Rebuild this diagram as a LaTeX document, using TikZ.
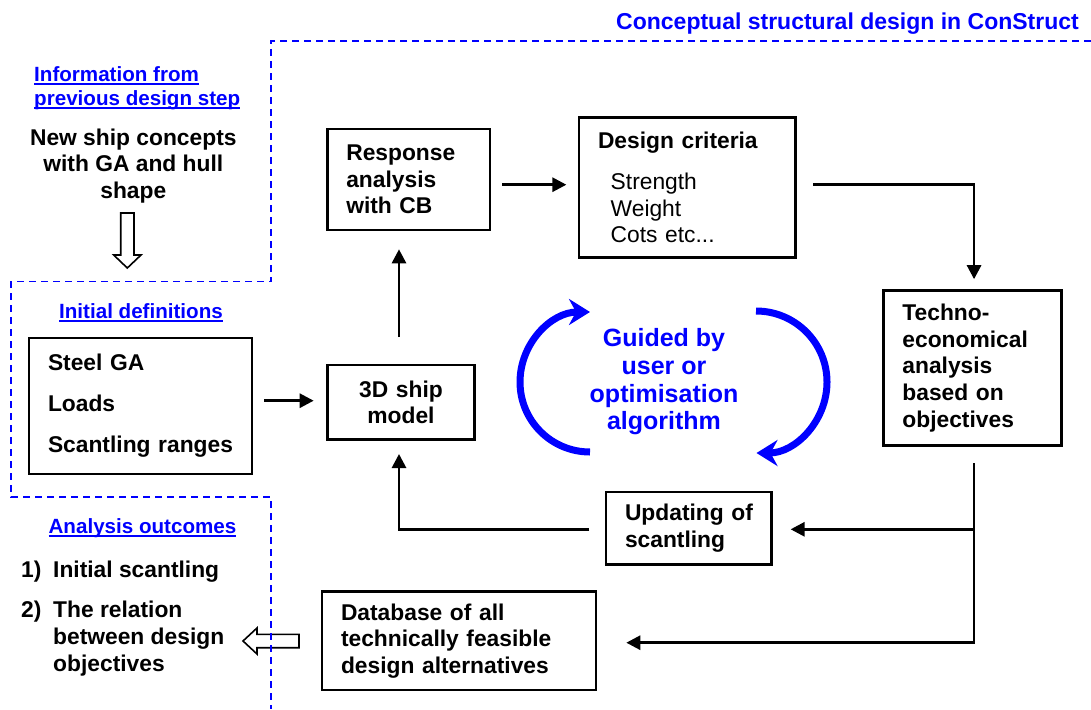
\documentclass[tikz,border=0pt]{standalone}
\usepackage{fontspec}
\setmainfont{Liberation Sans}
\usetikzlibrary{arrows.meta,calc}
\newcommand\fmain{\fontsize{22.8}{26.6}\selectfont\bfseries}
\newcommand\fhead{\fontsize{20.6}{24}\selectfont\bfseries}
\newcommand\fblue{\fontsize{25}{27.8}\selectfont\bfseries}
\newcommand\myul[1]{\setbox0\hbox{#1}\rlap{\rule[-3.8pt]{\wd0}{2pt}}\box0}
\begin{document}
\begin{tikzpicture}[x=1pt,y=-1pt,
  boxnode/.style={draw, line width=2.6pt, inner xsep=19pt, inner ysep=0pt, align=left, font=\fmain},
  conn/.style={line width=2.8pt, -{Triangle[length=14pt,width=14pt]}},
  bluedash/.style={draw=blue, line width=1.8pt, dash pattern=on 7pt off 5pt},
  hollow/.style={draw, line width=1.6pt, fill=white, line join=miter},
  cyclearrow/.style={draw=blue, line width=7pt, -{Stealth[length=21pt,width=26pt,inset=7pt]}},
  txt/.style={inner sep=0pt, font=\fmain},
  headtxt/.style={inner sep=0pt, font=\fhead, text=blue},
  bluetxt/.style={inner sep=0pt, font=\fblue, text=blue}]
\useasboundingbox (0,0) rectangle (1091,709);

% title
\node[anchor=base east, inner sep=0pt, text=blue, font=\fontsize{23}{27}\selectfont\bfseries] (title) at (1079,30) {Conceptual structural design in ConStruct};

% left column texts
\node[headtxt, anchor=base west] (info1) at (34,81.4) {\myul{Information from}};
\node[headtxt, anchor=base west] (info2) at (34,105.4) {\myul{previous design step}};
\node[txt, anchor=base] (new1) at (133.3,145) {New ship concepts};
\node[txt, anchor=base] (new2) at (133.3,171.7) {with GA and hull};
\node[txt, anchor=base] (new3) at (133.3,198.3) {shape};
\node[headtxt, anchor=base] (initdef) at (141,318) {\myul{Initial definitions}};
\node[headtxt, anchor=base] (anout) at (142.5,533) {\myul{Analysis outcomes}};
\node[txt, anchor=base west] (o1n) at (21,577.3) {1)};
\node[txt, anchor=base west] (o1) at (53,577.3) {Initial scantling};
\node[txt, anchor=base west] (o2n) at (21,617.3) {2)};
\node[txt, anchor=base west] (o2a) at (53,617.3) {The relation};
\node[txt, anchor=base west] (o2b) at (53,644.5) {between design};
\node[txt, anchor=base west] (o2c) at (53,671.3) {objectives};

% centre text
\node[bluetxt, anchor=base] (g1) at (664,346.2) {Guided by};
\node[bluetxt, anchor=base] (g2) at (664,374) {user or};
\node[bluetxt, anchor=base] (g3) at (664,402) {optimisation};
\node[bluetxt, anchor=base] (g4) at (664,429.7) {algorithm};

% boxes
\node[boxnode, minimum width=223pt, minimum height=136pt, text width=185pt] (init) at (140.5,406)
  {Steel GA\\[14.4pt]Loads\\[14.4pt]\mbox{Scantling ranges}};
\node[boxnode, minimum width=147.4pt, minimum height=74.3pt, text width=109.4pt, align=center] (ship) at (401,402.15)
  {3D ship\\model};
\node[boxnode, minimum width=162.7pt, minimum height=101pt, text width=124.7pt] (resp) at (408.65,179.5)
  {Response\\analysis\\with CB};
\node[boxnode, minimum width=216.7pt, minimum height=140.4pt, text width=178.7pt] (design) at (687.35,187.5)
  {Design criteria\\[14.3pt]\mdseries\hspace*{12.7pt}Strength\\\hspace*{12.7pt}Weight\\\hspace*{12.7pt}Cots etc...};
\node[boxnode, minimum width=178.3pt, minimum height=155.2pt, text width=140.3pt] (techno) at (972.55,368.1)
  {Techno-\\economical\\analysis\\based on\\objectives};
\node[boxnode, minimum width=165.7pt, minimum height=72.3pt, text width=127.7pt] (update) at (688.85,528.15)
  {\mbox{Updating of}\\scantling};
\node[boxnode, minimum width=274pt, minimum height=98.3pt, text width=236pt] (db) at (459,640.85)
  {Database of all\\technically feasible\\design alternatives};

% connector rows
\coordinate (rowA) at (0,184.7);
\coordinate (rowB) at (0,529.3);
\coordinate (rowC) at (0,642.7);
\coordinate (rowD) at (0,400.7);

\draw[conn] ($(resp.east |- rowA)+(11,0)$) -- ($(design.west |- rowA)+(-11.3,0)$);
\draw[conn] ($(design.east |- rowA)+(16,0)$) -| ($(techno.north)+(1.5,-10)$);
\draw[conn] ($(techno.south)+(1.5,16.3)$) |- ($(db.east |- rowC)+(29,0)$);
\draw[conn] ($(techno.south |- rowB)+(1.5,0)$) -- ($(update.east |- rowB)+(17.6,0)$);
\draw[conn] ($(update.west |- rowB)+(-15.3,0)$) -| ($(ship.south)+(-2,13.4)$);
\draw[conn] ($(ship.north)+(-2,-26.5)$) -- ($(ship.north |- resp.south)+(-2,18)$);
\draw[conn] ($(init.east |- rowD)+(11,0)$) -- ($(ship.west |- rowD)+(-12.3,0)$);

% blue cycle arrows
\draw[cyclearrow] (590,452) .. controls (551.3,452) and (520,420.7) .. (520,382) .. controls (520,343.3) and (551.3,312) .. (590,312);
\draw[cyclearrow] (756,311) .. controls (795.2,311) and (827,342.8) .. (827,382) .. controls (827,421.2) and (795.2,453) .. (756.5,453);

% hollow arrows
\draw[hollow] (120.7,213) -- (134,213) -- (134,255) -- (141,255) -- (127.3,268) -- (113.7,255) -- (120.7,255) -- cycle;
\draw[hollow] (299,634.3) -- (257,634.3) -- (257,628) -- (243,641) -- (257,654) -- (257,647.7) -- (299,647.7) -- cycle;

% dashed region borders
\draw[bluedash] (1091,41) -- (271,41) -- (271,281.5) -- (11,281.5) -- (11,497) -- (271,497) -- (271,709);
\end{tikzpicture}
\end{document}
